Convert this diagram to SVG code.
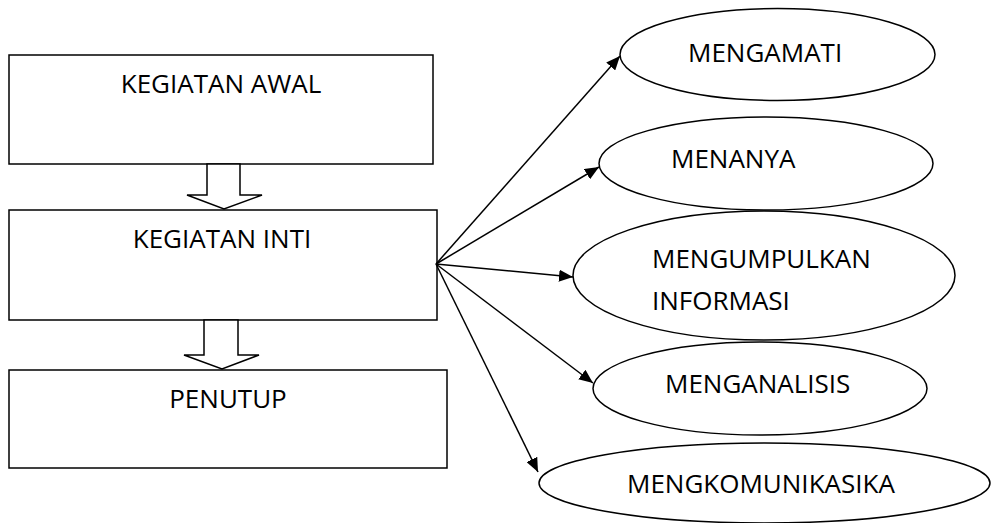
<svg xmlns="http://www.w3.org/2000/svg" width="997" height="523" viewBox="0 0 997 523">
<style>
.box{fill:#fff;stroke:#000;stroke-width:1.5}
.ell{fill:#fff;stroke:#000;stroke-width:1.5}
.blk{fill:#fff;stroke:#000;stroke-width:1.5;stroke-linejoin:miter}
.t{font-family:"Open Sans","Noto Sans","Liberation Sans",sans-serif;font-size:26px;fill:#000}
.c{text-anchor:middle}
.con{stroke:#000;stroke-width:1.5;fill:none;marker-end:url(#ah)}
</style>
<defs>
<marker id="ah" markerUnits="userSpaceOnUse" markerWidth="14" markerHeight="12" viewBox="0 0 14 12" refX="14" refY="6" orient="auto">
<path d="M0,0 L14,6 L0,12 Z" fill="#000"/>
</marker>
</defs>
<rect width="997" height="523" fill="#fff"/>
<g id="kegiatan-awal">
<rect class="box" x="9" y="55" width="424" height="109"/>
<text class="t c" x="221" y="93">KEGIATAN AWAL</text>
</g>
<g id="kegiatan-inti">
<rect class="box" x="9" y="210" width="428" height="110"/>
<text class="t c" x="222" y="248">KEGIATAN INTI</text>
</g>
<g id="penutup">
<rect class="box" x="9" y="370" width="438" height="98"/>
<text class="t c" x="228" y="408">PENUTUP</text>
</g>
<g id="mengamati">
<ellipse class="ell" cx="777.5" cy="54.5" rx="157.5" ry="46"/>
<text class="t" x="688" y="62">MENGAMATI</text>
</g>
<g id="menanya">
<ellipse class="ell" cx="766" cy="163.5" rx="167" ry="46.5"/>
<text class="t" x="671" y="168">MENANYA</text>
</g>
<g id="mengumpulkan">
<ellipse class="ell" cx="764" cy="275.5" rx="191" ry="64.5"/>
<text class="t" x="652" y="268">MENGUMPULKAN</text>
<text class="t" x="652" y="310">INFORMASI</text>
</g>
<g id="menganalisis">
<ellipse class="ell" cx="760" cy="388.5" rx="167" ry="46.5"/>
<text class="t" x="665" y="393">MENGANALISIS</text>
</g>
<g id="mengkomunikasika">
<ellipse class="ell" cx="764.5" cy="483" rx="225.5" ry="40"/>
<text class="t" x="627" y="493">MENGKOMUNIKASIKA</text>
</g>
<g id="connectors">
<polygon class="blk" points="207,164 207,195 187,195 224,209 262,195 240,195 240,164"/>
<polygon class="blk" points="204,320 204,355 184,355 222,369 259,355 238,355 238,320"/>
<line class="con" x1="436" y1="264" x2="620" y2="56"/>
<line class="con" x1="436" y1="264" x2="599" y2="167"/>
<line class="con" x1="436" y1="264" x2="573" y2="277"/>
<line class="con" x1="436" y1="264" x2="593" y2="383"/>
<line class="con" x1="436" y1="264" x2="538" y2="472"/>
</g>
</svg>
